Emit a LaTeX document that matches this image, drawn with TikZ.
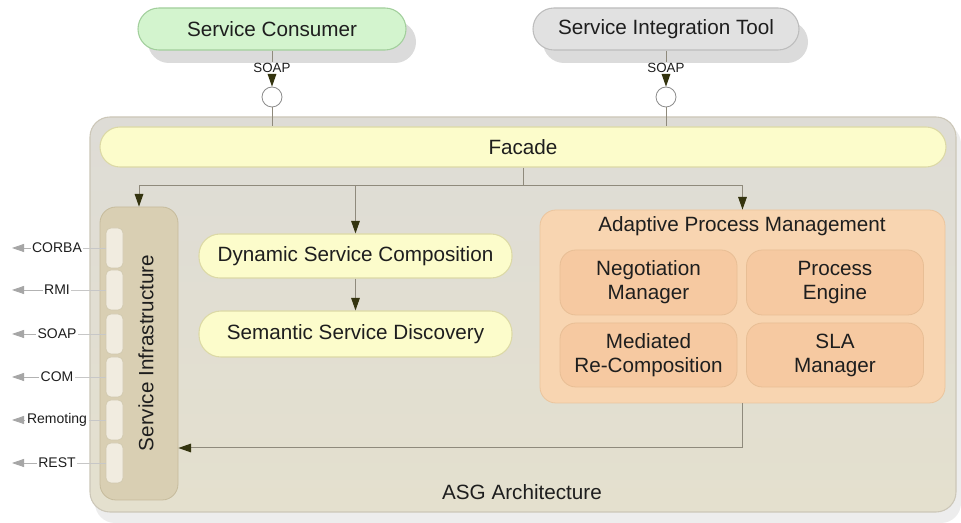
\documentclass[tikz,border=0pt]{standalone}
\usepackage{fontspec}
\setmainfont{Liberation Sans}
\usetikzlibrary{arrows.meta}
\newdimen\px \px=0.75pt

\definecolor{outerfill}{HTML}{E2DFD4}
\definecolor{outertop}{HTML}{DEDCD6}
\definecolor{outerbot}{HTML}{E4E0CE}
\definecolor{outerline}{HTML}{CCC7B8}
\definecolor{yellowfill}{HTML}{FCFCCB}
\definecolor{yellowline}{HTML}{DCD9A6}
\definecolor{greenfill}{HTML}{D3F4CE}
\definecolor{greenline}{HTML}{A2CF9C}
\definecolor{greyfill}{HTML}{E1E1E1}
\definecolor{greyline}{HTML}{BDBDBD}
\definecolor{tanfill}{HTML}{D9CFB3}
\definecolor{tanline}{HTML}{C6BB9C}
\definecolor{tabfill}{HTML}{F1ECE0}
\definecolor{orangefill}{HTML}{F8D5B1}
\definecolor{orangeline}{HTML}{EBC59D}
\definecolor{innerfill}{HTML}{F6C9A1}
\definecolor{innerline}{HTML}{E8BE95}
\definecolor{wire}{HTML}{8F8A7C}
\definecolor{tipdark}{HTML}{34340F}
\definecolor{textdark}{HTML}{1E1E1E}

\tikzset{
  lbl/.style={font=\fontsize{15.5}{18}\selectfont, text=textdark, align=center, inner sep=0pt},
  small/.style={font=\fontsize{10.5}{12}\selectfont, text=textdark, inner sep=1pt},
  pill/.style={lbl, draw=yellowline, fill=yellowfill, line width=0.8pt},
  wirel/.style={draw=wire, line width=0.75pt},
  arr/.style={wirel, -{Triangle[length=9.5pt,width=6.5pt,color=tipdark]}},
  greyarr/.style={draw=black!30, line width=0.6pt, -{Triangle[length=9pt,width=6pt,color=black!35]}},
  tabbox/.style={draw=tanline!80, fill=tabfill, line width=0.5pt, rounded corners=5\px,
    minimum width=17\px, minimum height=40\px, inner sep=0pt},
  inner/.style={lbl, draw=innerline, fill=innerfill, line width=0.6pt, rounded corners=16\px,
    minimum width=177\px, minimum height=65\px},
  pillshadow/.style={fill=black!14, rounded corners=21\px},
}

\begin{document}
\begin{tikzpicture}[x=0.75pt, y=-0.75pt]
\useasboundingbox (0,0) rectangle (961,523);
\fill[white] (0,0) rectangle (961,523);

% ASG container with a soft shadow
\fill[black!7, rounded corners=20\px] (95,124) rectangle (961,523);
\node[draw=outerline, top color=outertop, bottom color=outerbot, line width=0.8pt,
  rounded corners=20\px, minimum width=866\px, minimum height=395\px] (asg) at (523,314.5) {};
\node[lbl] (asglbl) at (522,492) {ASG Architecture};

% clients with shadows
\fill[pillshadow] (148,21) rectangle (416,63);
\fill[pillshadow] (543,21) rectangle (808,63);
\node[lbl, draw=greenline, fill=greenfill, line width=0.8pt, rounded corners=21\px,
  minimum width=268\px, minimum height=42\px] (cons) at (272,29) {Service Consumer};
\node[lbl, draw=greyline, fill=greyfill, line width=0.8pt, rounded corners=21\px,
  minimum width=266\px, minimum height=42\px] (tool) at (666,29) {Service Integration Tool};

% facade
\node[pill, rounded corners=20\px, minimum width=846\px, minimum height=40\px] (facade) at (523,147) {Facade};

% SOAP interfaces
\node[font=\fontsize{10}{12}\selectfont, text=textdark, inner sep=1pt] (soap1) at (272,68) {SOAP};
\node[font=\fontsize{10}{12}\selectfont, text=textdark, inner sep=1pt] (soap2) at (666,68) {SOAP};
\node[circle, draw=black!45, fill=white, line width=0.6pt, minimum size=20\px, inner sep=0pt] (c1) at (272,97) {};
\node[circle, draw=black!45, fill=white, line width=0.6pt, minimum size=20\px, inner sep=0pt] (c2) at (666,97) {};
\draw[wirel] (cons.south) -- (soap1.north);
\draw[wirel] (tool.south) -- (soap2.north);
\draw[arr] (soap1.south) -- (c1.north);
\draw[arr] (soap2.south) -- (c2.north);
\draw[wirel] (c1.south) -- (c1.south |- facade.north);
\draw[wirel] (c2.south) -- (c2.south |- facade.north);

% service infrastructure
\node[draw=tanline, fill=tanfill, line width=0.6pt, rounded corners=16\px,
  minimum width=78\px, minimum height=293\px] (si) at (139,353.5) {};
\node[lbl, rotate=90] (silbl) at (146,353) {Service Infrastructure};
\foreach \i/\y in {1/248, 2/290, 3/334, 4/377, 5/420, 6/463} {
  \node[tabbox] (tab\i) at (114.5,\y) {};
}
\foreach \i/\t in {1/CORBA, 2/RMI, 3/SOAP, 4/COM, 5/Remoting, 6/REST} {
  \node[small] (p\i) at (57,0 |- tab\i) {\t};
  \coordinate (e\i) at (12,0 |- tab\i);
  \draw[draw=black!22, line width=0.5pt] (tab\i.west) -- (p\i.east);
  \draw[greyarr] (p\i.west) -- (e\i);
}

% composition and discovery
\node[pill, rounded corners=21\px, minimum width=313\px, minimum height=44\px] (dsc) at (355.5,256) {Dynamic Service Composition};
\node[pill, rounded corners=22\px, minimum width=313\px, minimum height=46\px] (ssd) at (355.5,334) {Semantic Service Discovery};
\draw[arr] (dsc.south) -- (ssd.north);

% adaptive process management
\node[draw=orangeline, fill=orangefill, line width=0.6pt, rounded corners=16\px,
  minimum width=405\px, minimum height=193\px] (apm) at (742.5,306.5) {};
\node[lbl] (apmlbl) at (742,226) {Adaptive Process Management};
\node[inner] (nm) at (648.5,282.5) {Negotiation\\Manager};
\node[inner] (pe) at (835,282.5) {Process\\Engine};
\node[inner, minimum height=64\px] (mr) at (648.5,355) {Mediated\\Re-Composition};
\node[inner, minimum height=64\px] (sla) at (835,355) {SLA\\Manager};

% distribution from the facade
\coordinate (j) at (523,186);
\draw[wirel] (facade.south -| j) -- (j);
\draw[arr] (j) -| (si.north);
\draw[arr] (j) -| (apm.north);
\draw[arr] (dsc.north |- j) -- (dsc.north);

% feedback to the service infrastructure
\coordinate (corner) at (742.5,448);
\draw[arr] (apm.south) -- (corner) -- (corner -| si.east);
\end{tikzpicture}
\end{document}
